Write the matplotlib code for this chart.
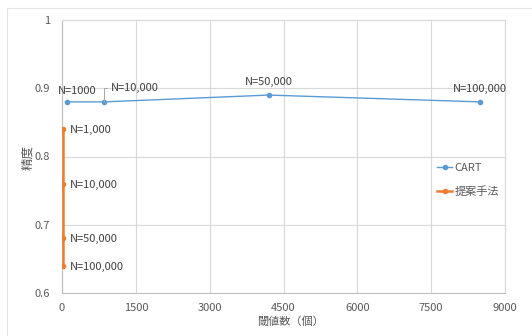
import matplotlib
matplotlib.use('Agg')
import matplotlib.pyplot as plt
from matplotlib.patches import Rectangle

plt.rcParams['font.family'] = ['Noto Sans CJK JP', 'DejaVu Sans']

# データ
cart_x = [100, 850, 4200, 8500]
cart_y = [0.88, 0.88, 0.89, 0.88]
cart_labels = ['N=1000', 'N=10,000', 'N=50,000', 'N=100,000']

prop_x = [25, 25, 25, 25]
prop_y = [0.84, 0.76, 0.68, 0.64]
prop_labels = ['N=1,000', 'N=10,000', 'N=50,000', 'N=100,000']

x_ticks = [0, 1500, 3000, 4500, 6000, 7500, 9000]
y_ticks = [0.6, 0.7, 0.8, 0.9, 1.0]
y_ticklabels = ['0.6', '0.7', '0.8', '0.9', '1']

blue = '#5b9bd5'
orange = '#ed7d31'
grid_c = '#d9d9d9'
text_c = '#595959'

fig = plt.figure(figsize=(5.32, 3.36), dpi=100)
W, H = 532, 336
ax = fig.add_axes([62 / W, 1 - 293 / H, (505 - 62) / W, (293 - 20) / H])

# 外枠
fig.patches.append(Rectangle((7 / W, -0.1), 1.0, 1 - 8 / H + 0.1,
                             transform=fig.transFigure, fill=False,
                             edgecolor='#e3e3e3', linewidth=0.8))

ax.plot(cart_x, cart_y, color=blue, linewidth=1.0, marker='o',
        markersize=3, label='CART', zorder=3)
ax.plot(prop_x, prop_y, color=orange, linewidth=1.8, marker='o',
        markersize=3, label='提案手法', zorder=3)

ax.set_xlim(0, 9000)
ax.set_ylim(0.6, 1.0)
ax.set_xticks(x_ticks)
ax.set_yticks(y_ticks)
ax.set_yticklabels(y_ticklabels)
ax.tick_params(length=0, labelsize=8, labelcolor=text_c)
ax.tick_params(axis='y', pad=8.5)
ax.tick_params(axis='x', pad=7.5)
ax.grid(True, color=grid_c, linewidth=0.8)
ax.set_axisbelow(True)
for side in ['top', 'right']:
    ax.spines[side].set_color(grid_c)
    ax.spines[side].set_linewidth(0.8)
for side in ['left', 'bottom']:
    ax.spines[side].set_color('#bfbfbf')
    ax.spines[side].set_linewidth(0.8)

# データラベル (CART)
label_kw = dict(fontsize=8, color='#404040', textcoords='offset pixels')
ax.annotate(cart_labels[0], (cart_x[0], cart_y[0]), xytext=(10, 11),
            ha='center', va='center', **label_kw)
ax.annotate(cart_labels[1], (cart_x[1], cart_y[1]), xytext=(7, 14),
            ha='left', va='center',
            arrowprops=dict(arrowstyle='-', color='#a6a6a6', linewidth=0.7,
                            connectionstyle='angle,angleA=0,angleB=90,rad=0',
                            shrinkA=1, shrinkB=0),
            **label_kw)
ax.annotate(cart_labels[2], (cart_x[2], cart_y[2]), xytext=(0, 13),
            ha='center', va='center', **label_kw)
ax.annotate(cart_labels[3], (cart_x[3], cart_y[3]), xytext=(-1, 13),
            ha='center', va='center', **label_kw)

# データラベル (提案手法)
for x, y, s in zip(prop_x, prop_y, prop_labels):
    ax.annotate(s, (x, y), xytext=(7, -1), ha='left', va='center', **label_kw)

ax.set_ylabel('精度', fontsize=9, color=text_c)
ax.yaxis.set_label_coords(-0.062, 0.495)
ax.set_xlabel('閾値数（個）', fontsize=8, color=text_c)
ax.xaxis.set_label_coords(0.515, -0.085)

fig.legend(loc='center left', bbox_to_anchor=(437 / W, 1 - 180 / H),
           frameon=False, fontsize=8, handlelength=1.35, handletextpad=0.2,
           labelspacing=1.15, borderpad=0, borderaxespad=0, labelcolor=text_c)

fig.savefig('out.png', dpi=100)
